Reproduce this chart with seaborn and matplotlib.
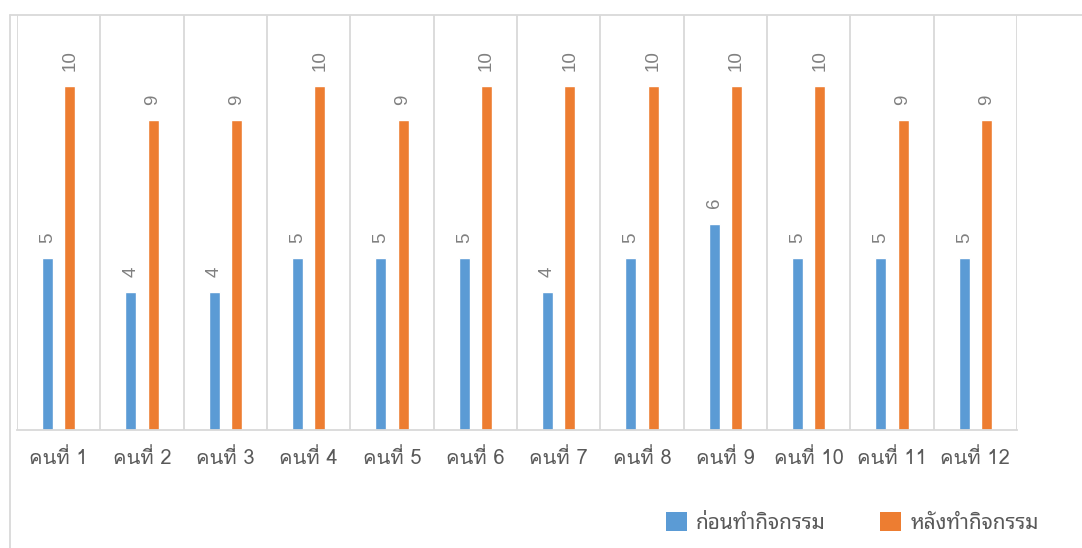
import matplotlib
matplotlib.use("Agg")
import matplotlib.pyplot as plt
from matplotlib.lines import Line2D
from matplotlib.patches import Patch
import seaborn as sns
import pandas as pd

categories = ["คนที่ 1", "คนที่ 2", "คนที่ 3", "คนที่ 4", "คนที่ 5", "คนที่ 6",
              "คนที่ 7", "คนที่ 8", "คนที่ 9", "คนที่ 10", "คนที่ 11", "คนที่ 12"]
before = [5, 4, 4, 5, 5, 5, 4, 5, 6, 5, 5, 5]
after = [10, 9, 9, 10, 9, 10, 10, 10, 10, 10, 9, 9]
series_names = ["ก่อนทำกิจกรรม", "หลังทำกิจกรรม"]
colors = ["#5B9BD5", "#ED7D31"]

df = pd.DataFrame({
    "person": categories * 2,
    "score": before + after,
    "series": [series_names[0]] * len(categories) + [series_names[1]] * len(categories),
})

sns.set_theme(style="white")
plt.rcParams["font.family"] = ["Loma", "DejaVu Sans"]

W, H = 1082, 548
fig = plt.figure(figsize=(W / 100, H / 100), dpi=100)
ax = fig.add_axes([17 / W, 1 - 430 / H, 1000 / W, 415 / H])

sns.barplot(data=df, x="person", y="score", hue="series", order=categories,
            hue_order=series_names, palette=colors, width=0.53, gap=0.5,
            saturation=1, ax=ax, legend=False)

ax.set_ylim(0, 12.06)
ax.set_xlim(-0.5, len(categories) - 0.5)
ax.set_xlabel("")
ax.set_ylabel("")
ax.set_yticks([])

grid_c = "#D9D9D9"
for x in range(len(categories) + 1):
    ax.axvline(x - 0.5, color=grid_c, lw=1.3, zorder=0)
for s in ["top", "right", "left"]:
    ax.spines[s].set_visible(False)
ax.spines["bottom"].set_color(grid_c)
ax.spines["bottom"].set_linewidth(1.3)

ax.tick_params(axis="x", length=0, pad=13, labelsize=14.5, labelcolor="#595959")

for cont in ax.containers:
    ax.bar_label(cont, labels=[f"{v:g}" for v in cont.datavalues], rotation=90,
                 padding=11, fontsize=13.5, color="#808080",
                 family=["Liberation Sans", "DejaVu Sans"])

# chart-area border (left and top)
fig.add_artist(Line2D([10 / W, 10 / W], [0, 1 - 15 / H], color=grid_c, lw=1.3,
                      transform=fig.transFigure))
fig.add_artist(Line2D([10 / W, 1], [1 - 15 / H, 1 - 15 / H], color=grid_c, lw=1.3,
                      transform=fig.transFigure))

handles = [Patch(facecolor=c, edgecolor="none") for c in colors]
leg = fig.legend(handles, series_names, loc="center left",
                 bbox_to_anchor=(666 / W, 1 - 523 / H), ncol=2, frameon=False,
                 prop={"family": ["Noto Sans Thai Looped", "DejaVu Sans"], "size": 15},
                 labelcolor="#595959", handlelength=1.0, handleheight=1.0,
                 handletextpad=0.45, columnspacing=2.6, borderaxespad=0, borderpad=0)

fig.savefig("out.png", dpi=100)
